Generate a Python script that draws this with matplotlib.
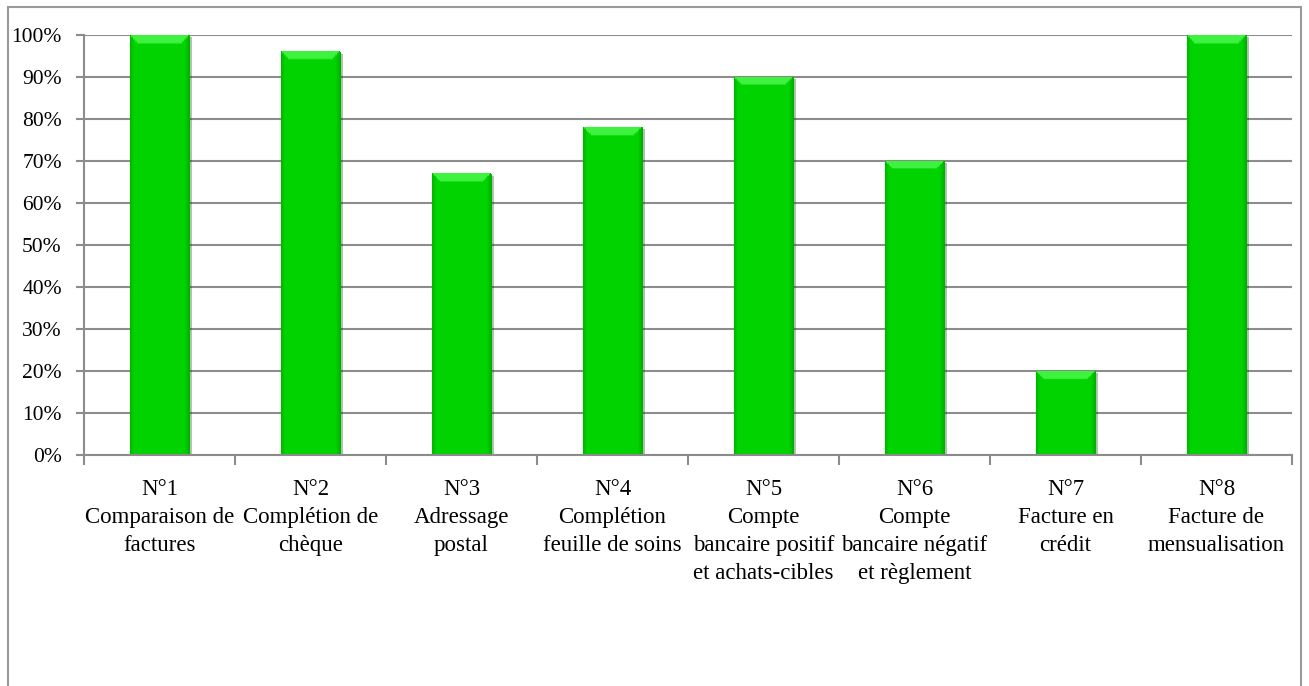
#!/usr/bin/env python3

import numpy as np
import matplotlib
matplotlib.use('Agg')
import matplotlib.pyplot as plt
import matplotlib.patheffects as pe
from matplotlib.patches import Rectangle

# Success rate per exercise
categories = ['N°1\nComparaison de\nfactures',
              'N°2\nComplétion de\nchèque',
              'N°3\nAdressage\npostal',
              'N°4\nComplétion\nfeuille de soins',
              'N°5\nCompte\nbancaire positif\net achats-cibles',
              'N°6\nCompte\nbancaire négatif\net règlement',
              'N°7\nFacture en\ncrédit',
              'N°8\nFacture de\nmensualisation']
values = [1.00, 0.96, 0.67, 0.78, 0.90, 0.70, 0.20, 1.00]
yticks = np.arange(0, 1.01, 0.1)

plt.rcParams['font.family'] = ['Liberation Serif', 'DejaVu Serif']

fig = plt.figure(figsize=(13.09, 6.86), dpi=100)
ax = fig.add_axes([84/1309, 1-455/686, (1292-84)/1309, 420/686])

# outer chart frame
fig.patches.append(Rectangle((8/1309, -0.05), (1301-8)/1309, 1.05-7/686,
                             transform=fig.transFigure, fill=False,
                             edgecolor='#9a9a9a', linewidth=1.5))

x = np.arange(len(values))
bars = ax.bar(x, values, width=0.39, color='#00d400', edgecolor='#00b000',
              linewidth=0.8, zorder=3)
for b in bars:
    b.set_path_effects([pe.SimplePatchShadow(offset=(2, -1.5), alpha=0.3),
                        pe.Normal()])

# bevel shading painted over each bar
base = np.array([0.0, 0.83, 0.0])
light = np.array([0.25, 0.95, 0.25])
dark = np.array([0.0, 0.70, 0.0])
bev = 8/420   # bevel depth in data units (about 8 px)
for b in bars:
    x0, w, h = b.get_x(), b.get_width(), b.get_height()
    nu, nv = 60, 200
    u = (np.arange(nu) + 0.5) / nu
    v = h - (np.arange(nv) + 0.5) / nv * h       # from top down
    U, V = np.meshgrid(u, v)
    img = np.ones((nv, nu, 3)) * base
    edge = np.minimum(U, 1 - U)
    side = edge < 0.07
    img[side] = dark + (base - dark) * (edge[side] / 0.07)[:, None]
    dtop = h - V
    top = (dtop < bev) & (edge * w * 151 / 420 > dtop * 1.0)
    img[top] = light
    ax.imshow(img, extent=(x0, x0 + w, 0, h), aspect='auto', zorder=3.5,
              interpolation='bilinear', origin='upper')

ax.set_xlim(-0.5, len(values)-0.5)
ax.set_ylim(0, 1)
ax.set_yticks(yticks)
ax.set_yticklabels([f'{int(round(v*100))}%' for v in yticks], fontsize=15.5)
ax.yaxis.grid(True, color='#8c8c8c', linewidth=1.5, zorder=0)

ax.set_xticks(x)
ax.set_xticklabels(categories, fontsize=16.5, linespacing=1.45)
ax.set_xticks(np.arange(-0.5, len(values)), minor=True)
ax.tick_params(axis='x', which='major', length=0, pad=17)
ax.tick_params(axis='x', which='minor', length=7, color='#8c8c8c', width=1.5)
ax.tick_params(axis='y', length=6, color='#8c8c8c', width=1.5, pad=10)

for s in ['top', 'right']:
    ax.spines[s].set_visible(False)
for s in ['left', 'bottom']:
    ax.spines[s].set_color('#8c8c8c')
    ax.spines[s].set_linewidth(1.5)
    ax.spines[s].set_zorder(4)

fig.savefig('out.png', dpi=100)
